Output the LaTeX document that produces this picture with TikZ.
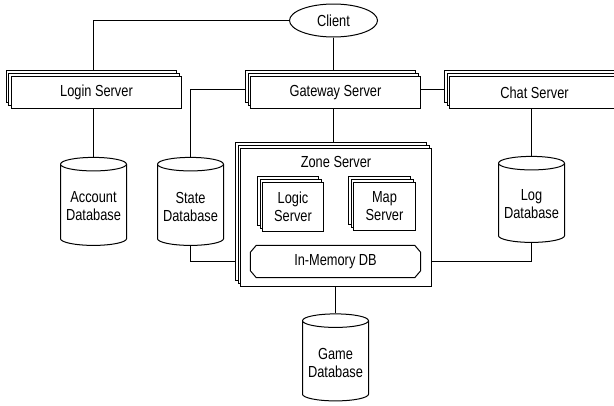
\documentclass[tikz,border=0pt]{standalone}
\usepackage{fontspec}
\setmainfont{Liberation Sans}[FakeStretch=0.8]
\usetikzlibrary{shapes.geometric, shadows, backgrounds}

\tikzset{
    server/.style={draw, fill=white, line width=1pt, double copy shadow={shadow xshift=-2.5pt, shadow yshift=3pt}},
    database/.style={draw, fill=white, line width=1pt, cylinder, shape border rotate=90, aspect=0.22, align=center},
    link/.style={line width=1pt}
}

\begin{document}
\begin{tikzpicture}[x=1pt, y=-1pt, font=\fontsize{16}{18}\selectfont]
            \useasboundingbox (-0.5,-0.5) rectangle (613.5,404.5);

            % Client and front servers
            \node[draw, ellipse, line width=1pt, minimum width=88pt, minimum height=33pt, inner sep=0pt] (client) at (333,20) {Client};
            \node[server, minimum width=170pt, minimum height=32pt] (login) at (96,92) {Login Server};
            \node[server, minimum width=170pt, minimum height=32pt] (gateway) at (335,92) {Gateway Server};
            \node[server, minimum width=170pt, minimum height=32pt] (chat) at (534,92) {Chat Server};

            % Zone server with its parts
            \node[server, minimum width=191pt, minimum height=138pt] (zone) at (335.5,217) {};
            \node[anchor=north, inner sep=0pt] (zonetitle) at ([yshift=-8pt]zone.north) {Zone Server};
            \node[server, minimum width=61pt, minimum height=49pt, align=center, inner sep=1pt] (logic) at (292.5,206.5) {Logic\\Server};
            \node[server, minimum width=62pt, minimum height=48pt, align=center, inner sep=1pt] (map) at (384,206) {Map\\Server};
            \node[minimum width=170pt, minimum height=32pt, inner sep=0pt] (imdb) at (335,261) {In-Memory DB};
            \draw[line width=1pt] ([xshift=6pt]imdb.north west) -- ([xshift=-6pt]imdb.north east)
                -- ([yshift=-7pt]imdb.north east) -- ([yshift=7pt]imdb.south east)
                -- ([xshift=-6pt]imdb.south east) -- ([xshift=6pt]imdb.south west)
                -- ([yshift=7pt]imdb.south west) -- ([yshift=-7pt]imdb.north west) -- cycle;

            % Databases
            \node[database, minimum width=66pt, minimum height=88pt] (account) at (93,206) {Account\\Database};
            \node[database, minimum width=66pt, minimum height=88pt] (state) at (190,206) {State\\Database};
            \node[database, minimum width=66pt, minimum height=86pt] (log) at (531,204) {Log\\Database};
            \node[database, minimum width=66pt, minimum height=87pt] (game) at (335,362) {Game\\Database};

            % Connections
            \coordinate (bus) at ([yshift=7pt]imdb.north);
            \begin{scope}[on background layer, link]
                \draw (client.west) -| ([xshift=-3pt]login.north);
                \draw (client.south) -- (client.south |- gateway.north);
                \draw ([yshift=3pt]gateway.west) -| (state.north);
                \draw ([yshift=3pt]gateway.east) -- ([yshift=3pt]chat.west);
                \draw ([xshift=-2pt]gateway.south) -- ([xshift=-2.5pt]zone.north);
                \draw (account.north) -- (account.north |- login.south);
                \draw (log.north) -- (log.north |- chat.south);
                \draw (state.south) |- (imdb.west);
                \draw (imdb.east) -| (log.south);
                \draw (imdb.south) -- (imdb.south |- game.north);
                \draw (logic.south) |- (bus) -| (map.south);
                \draw (bus) -- (imdb.north);
            \end{scope}
        \end{tikzpicture}
\end{document}
